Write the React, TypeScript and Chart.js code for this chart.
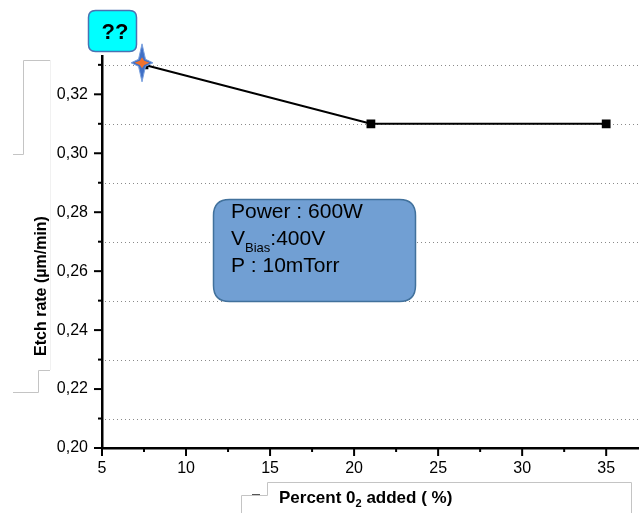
import React, { useEffect, useRef } from "react";
import { Chart, registerables } from "chart.js";

Chart.register(...registerables);

// ---- data ----
const o2Percent = [7.5, 21, 35];
const etchRate = [0.33, 0.31, 0.31];
const xMajorTicks = [5, 10, 15, 20, 25, 30, 35];
const xMinorTicks = [7.5, 12.5, 17.5, 22.5, 27.5, 32.5];
const yMajorTicks = [0.2, 0.22, 0.24, 0.26, 0.28, 0.3, 0.32];
const yMinorTicks = [0.21, 0.23, 0.25, 0.27, 0.29, 0.31, 0.33];
const yTitle = "Etch rate (µm/min)";
const xTitleParts = ["Percent 0", "2", " added ( %)"];
const infoLines = ["Power : 600W", "V", "Bias", ":400V", "P : 10mTorr"];
const badgeText = "??";

const FONT = "Arial, 'Liberation Sans', sans-serif";

function roundRect(ctx: CanvasRenderingContext2D, x: number, y: number, w: number, h: number, r: number) {
  ctx.beginPath();
  ctx.moveTo(x + r, y);
  ctx.lineTo(x + w - r, y);
  ctx.quadraticCurveTo(x + w, y, x + w, y + r);
  ctx.lineTo(x + w, y + h - r);
  ctx.quadraticCurveTo(x + w, y + h, x + w - r, y + h);
  ctx.lineTo(x + r, y + h);
  ctx.quadraticCurveTo(x, y + h, x, y + h - r);
  ctx.lineTo(x, y + r);
  ctx.quadraticCurveTo(x, y, x + r, y);
  ctx.closePath();
}

function star4(ctx: CanvasRenderingContext2D, cx: number, cy: number, rx: number, ry: number, ri: number) {
  ctx.beginPath();
  ctx.moveTo(cx, cy - ry);
  ctx.lineTo(cx + ri, cy - ri);
  ctx.lineTo(cx + rx, cy);
  ctx.lineTo(cx + ri, cy + ri);
  ctx.lineTo(cx, cy + ry);
  ctx.lineTo(cx - ri, cy + ri);
  ctx.lineTo(cx - rx, cy);
  ctx.lineTo(cx - ri, cy - ri);
  ctx.closePath();
}

const decorPlugin = {
  id: "decor",
  beforeDatasetsDraw(chart: any) {
    const { ctx, chartArea, scales } = chart;
    const y = scales.y;
    ctx.save();
    ctx.strokeStyle = "#8a8a8a";
    ctx.lineWidth = 1;
    ctx.setLineDash([1, 3]);
    yMinorTicks.forEach((v) => {
      const py = Math.round(y.getPixelForValue(v)) + 0.5;
      ctx.beginPath();
      ctx.moveTo(chartArea.left + 3, py);
      ctx.lineTo(chartArea.right, py);
      ctx.stroke();
    });
    ctx.restore();
  },
  afterDraw(chart: any) {
    const { ctx, chartArea, scales } = chart;
    const x = scales.x;
    const y = scales.y;
    ctx.save();

    // tick marks
    ctx.strokeStyle = "#000";
    ctx.lineWidth = 2;
    const L = chartArea.left;
    const B = chartArea.bottom;
    yMajorTicks.forEach((v) => {
      const py = y.getPixelForValue(v);
      ctx.beginPath(); ctx.moveTo(L - 8, py); ctx.lineTo(L, py); ctx.stroke();
    });
    yMinorTicks.forEach((v) => {
      const py = y.getPixelForValue(v);
      ctx.beginPath(); ctx.moveTo(L - 4, py); ctx.lineTo(L, py); ctx.stroke();
    });
    xMajorTicks.forEach((v) => {
      const px = x.getPixelForValue(v);
      ctx.beginPath(); ctx.moveTo(px, B); ctx.lineTo(px, B + 8); ctx.stroke();
    });
    xMinorTicks.forEach((v) => {
      const px = x.getPixelForValue(v);
      ctx.beginPath(); ctx.moveTo(px, B); ctx.lineTo(px, B + 4); ctx.stroke();
    });

    // faint decorative frame lines
    ctx.lineWidth = 1;
    ctx.strokeStyle = "#f1f1f1";
    ctx.beginPath(); ctx.moveTo(50.5, 60); ctx.lineTo(50.5, 370); ctx.stroke();
    ctx.strokeStyle = "#c4c4c4";
    ctx.beginPath(); ctx.moveTo(50, 60.5); ctx.lineTo(23.5, 60.5); ctx.lineTo(23.5, 154.5); ctx.lineTo(13, 154.5); ctx.stroke();
    ctx.beginPath(); ctx.moveTo(50, 370.5); ctx.lineTo(38.5, 370.5); ctx.lineTo(38.5, 392.5); ctx.lineTo(13, 392.5); ctx.stroke();
    ctx.beginPath(); ctx.moveTo(631.5, 513); ctx.lineTo(631.5, 482.5); ctx.lineTo(267.5, 482.5); ctx.lineTo(267.5, 495.5); ctx.lineTo(241.5, 495.5); ctx.lineTo(241.5, 513); ctx.stroke();
    ctx.strokeStyle = "#555";
    ctx.beginPath(); ctx.moveTo(252, 494.5); ctx.lineTo(260, 494.5); ctx.stroke();

    // axis titles
    ctx.fillStyle = "#000";
    ctx.font = `bold 16px ${FONT}`;
    ctx.save();
    ctx.translate(46, 286);
    ctx.rotate(-Math.PI / 2);
    ctx.textAlign = "center";
    ctx.textBaseline = "alphabetic";
    ctx.fillText(yTitle, 0, 0);
    ctx.restore();

    ctx.textAlign = "left";
    ctx.textBaseline = "alphabetic";
    let tx = 279;
    const tb = 503;
    ctx.font = `bold 17px ${FONT}`;
    ctx.fillText(xTitleParts[0], tx, tb);
    tx += ctx.measureText(xTitleParts[0]).width;
    ctx.font = `bold 11px ${FONT}`;
    ctx.fillText(xTitleParts[1], tx, tb + 4);
    tx += ctx.measureText(xTitleParts[1]).width;
    ctx.font = `bold 17px ${FONT}`;
    ctx.fillText(xTitleParts[2], tx, tb);

    // star highlight at first point
    const pt = chart.getDatasetMeta(0).data[0];
    const sx = pt.x - 2;
    const sy = pt.y - 2;
    star4(ctx, sx, sy, 11, 19, 3.5);
    ctx.fillStyle = "#3f6fc6";
    ctx.fill();
    ctx.strokeStyle = "#7aa0de";
    ctx.lineWidth = 1;
    ctx.stroke();
    star4(ctx, sx, sy, 7.5, 5.5, 2.2);
    ctx.fillStyle = "#f0712c";
    ctx.fill();

    // "??" badge
    roundRect(ctx, 88.5, 10.5, 48, 41, 7);
    ctx.fillStyle = "#00ffff";
    ctx.fill();
    ctx.strokeStyle = "#4a72b2";
    ctx.lineWidth = 1.5;
    ctx.stroke();
    ctx.fillStyle = "#000";
    ctx.font = `bold 22px ${FONT}`;
    ctx.textAlign = "center";
    ctx.fillText(badgeText, 115, 39);

    // info box
    roundRect(ctx, 213.5, 199.5, 202, 102, 16);
    ctx.fillStyle = "#719fd3";
    ctx.fill();
    ctx.strokeStyle = "#41719c";
    ctx.lineWidth = 1.5;
    ctx.stroke();
    ctx.fillStyle = "#000";
    ctx.textAlign = "left";
    ctx.font = `21px ${FONT}`;
    ctx.fillText(infoLines[0], 231, 218);
    let ix = 231;
    ctx.fillText(infoLines[1], ix, 245);
    ix += ctx.measureText(infoLines[1]).width;
    ctx.font = `13px ${FONT}`;
    ctx.fillText(infoLines[2], ix, 252);
    ix += ctx.measureText(infoLines[2]).width;
    ctx.font = `21px ${FONT}`;
    ctx.fillText(infoLines[3], ix, 245);
    ctx.fillText(infoLines[4], 231, 272);

    ctx.restore();
  },
};

export default function App() {
  const canvasRef = useRef<HTMLCanvasElement | null>(null);

  useEffect(() => {
    if (!canvasRef.current) return;
    const chart = new Chart(canvasRef.current, {
      type: "line",
      data: {
        datasets: [
          {
            data: o2Percent.map((v, i) => ({ x: v, y: etchRate[i] })),
            borderColor: "#000",
            borderWidth: 2,
            backgroundColor: "#000",
            pointStyle: "rect",
            pointRadius: 6.2,
            pointBorderWidth: 0,
            pointBackgroundColor: "#000",
            tension: 0,
          },
        ],
      },
      options: {
        animation: false,
        responsive: true,
        maintainAspectRatio: false,
        layout: { padding: { top: 56, right: 0, left: 0, bottom: 0 } },
        plugins: { legend: { display: false }, tooltip: { enabled: false } },
        scales: {
          x: {
            type: "linear",
            min: 5,
            max: 37,
            afterBuildTicks: (s: any) => {
              s.ticks = xMajorTicks.map((v) => ({ value: v }));
            },
            afterFit: (s: any) => {
              s.height = 65;
              s.paddingLeft = 0;
              s.paddingRight = 0;
            },
            grid: { display: false, drawTicks: false },
            border: { display: true, color: "#000", width: 2.5 },
            ticks: {
              padding: 11,
              color: "#000",
              font: { family: FONT, size: 16 },
              maxRotation: 0,
              autoSkip: false,
              callback: (v: any) => String(v),
            },
          },
          y: {
            type: "linear",
            min: 0.2,
            max: 0.333,
            afterBuildTicks: (s: any) => {
              s.ticks = yMajorTicks.map((v) => ({ value: v }));
            },
            afterFit: (s: any) => {
              s.width = 102;
              s.paddingTop = 0;
              s.paddingBottom = 0;
            },
            grid: { display: false, drawTicks: false },
            border: { display: true, color: "#000", width: 2.5 },
            ticks: {
              padding: 14,
              color: "#000",
              font: { family: FONT, size: 16 },
              autoSkip: false,
              callback: (v: any) => Number(v).toFixed(2).replace(".", ","),
            },
          },
        },
      },
      plugins: [decorPlugin],
    });
    return () => chart.destroy();
  }, []);

  return (
    <div style={{ position: "absolute", left: 0, top: 0, width: 639, height: 513, overflow: "hidden", background: "#fff" }}>
      <div style={{ position: "relative", width: 646, height: 513 }}>
        <canvas ref={canvasRef} />
      </div>
    </div>
  );
}
